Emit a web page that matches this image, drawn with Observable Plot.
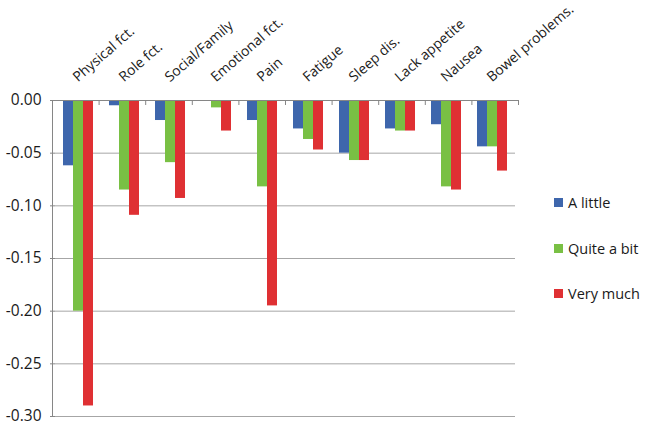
<!DOCTYPE html>
<html>
<head>
<meta charset="utf-8">
<script src="https://cdn.jsdelivr.net/npm/d3@7"></script>
<script src="https://cdn.jsdelivr.net/npm/@observablehq/plot@0.6"></script>
<style>
  html, body { margin: 0; padding: 0; background: #fff; }
  #wrap { position: relative; width: 646px; height: 427px; font-family: "Open Sans", sans-serif; }
  #legend { position: absolute; left: 554px; top: 0; }
  .item { position: absolute; white-space: nowrap; font-size: 14.5px; color: #1a1a1a; display: flex; align-items: center; }
  .sw { width: 9px; height: 9px; margin-right: 5px; display: inline-block; }
</style>
</head>
<body>
<div id="wrap"><div id="legend"></div></div>
<script>
const categories = ["Physical fct.", "Role fct.", "Social/Family", "Emotional fct.", "Pain", "Fatigue", "Sleep dis.", "Lack appetite", "Nausea", "Bowel problems."];
const seriesNames = ["A little", "Quite a bit", "Very much"];
const aLittle   = [-0.062, -0.005, -0.019, 0.000, -0.019, -0.027, -0.050, -0.027, -0.023, -0.044];
const quiteABit = [-0.200, -0.085, -0.059, -0.007, -0.082, -0.037, -0.057, -0.029, -0.082, -0.044];
const veryMuch  = [-0.290, -0.109, -0.093, -0.029, -0.195, -0.047, -0.057, -0.029, -0.085, -0.067];
const yTicks = [0, -0.05, -0.10, -0.15, -0.20, -0.25, -0.30];
const colors = ["#3E66AC", "#79C044", "#DF3033"];

const seriesValues = [aLittle, quiteABit, veryMuch];
const rows = [];
categories.forEach((c, i) => {
  seriesNames.forEach((s, j) => rows.push({cat: c, series: s, value: seriesValues[j][i]}));
});

const font = '"Open Sans", sans-serif';
const chart = Plot.plot({
  width: 646,
  height: 427,
  marginTop: 100,
  marginBottom: 11,
  marginLeft: 52,
  marginRight: 128,
  style: {fontFamily: font, fontSize: "15px", color: "#1a1a1a", background: "#fff", overflow: "visible"},
  fx: {domain: categories, padding: 0, axis: null},
  x: {domain: seriesNames, paddingInner: 0, paddingOuter: 0.74, axis: null},
  y: {domain: [-0.30, 0], ticks: yTicks, axis: null},
  color: {domain: seriesNames, range: colors},
  marks: [
    Plot.gridY(yTicks, {stroke: "#a6a6a6", strokeOpacity: 1, strokeWidth: 1}),
    Plot.axisY(yTicks, {tickSize: 5, tickPadding: 9, stroke: "#868686", label: null, tickFormat: d => d.toFixed(2), fontSize: 15.5, facetAnchor: "left"}),
    Plot.barY(rows, {fx: "cat", x: "series", y: "value", fill: "series"}),
    Plot.text(categories, {fx: d => d, text: d => d, frameAnchor: "top", dy: -18, dx: -0.5, rotate: -41, textAnchor: "start", lineAnchor: "bottom", fontSize: 14, fill: "#1a1a1a"})
  ]
});

// axis line + category tick marks drawn from the chart's own scales
const fxs = chart.scale("fx");
const fxBand = d3.scaleBand().domain(fxs.domain).range(fxs.range).paddingInner(fxs.paddingInner ?? 0).paddingOuter(fxs.paddingOuter ?? 0);
const ys = chart.scale("y");
const yScale = d3.scaleLinear().domain(ys.domain).range(ys.range);
const svg = d3.select(chart);
const g = svg.append("g").attr("stroke", "#868686").attr("stroke-width", 1);
const x0 = fxBand(categories[0]);
const xEnd = fxBand(categories[categories.length - 1]) + fxBand.bandwidth();
g.append("line").attr("x1", x0 + 0.5).attr("x2", x0 + 0.5).attr("y1", yScale(0)).attr("y2", yScale(-0.30));
g.append("line").attr("x1", x0).attr("x2", xEnd).attr("y1", yScale(0) + 0.5).attr("y2", yScale(0) + 0.5);
const bounds = categories.map(c => fxBand(c)).concat([xEnd]);
bounds.forEach(b => g.append("line").attr("x1", b + 0.5).attr("x2", b + 0.5).attr("y1", yScale(0)).attr("y2", yScale(0) + 5));

document.getElementById("wrap").prepend(chart);

const legend = document.getElementById("legend");
const legendTops = [193, 239, 284];
seriesNames.forEach((s, j) => {
  const it = document.createElement("div");
  it.className = "item";
  it.style.top = legendTops[j] + "px";
  it.innerHTML = `<span class="sw" style="background:${colors[j]}"></span>${s}`;
  legend.appendChild(it);
});
</script>
</body>
</html>
